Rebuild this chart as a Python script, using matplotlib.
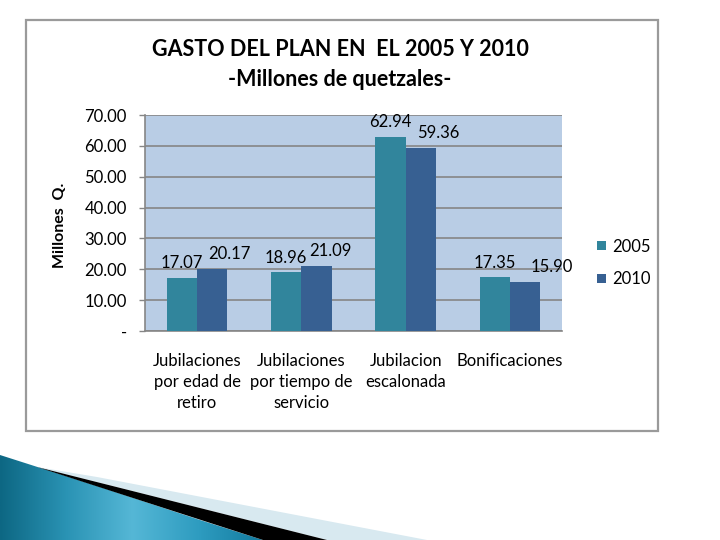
#!/usr/bin/env python3

#imports
import matplotlib
matplotlib.use("Agg")
import matplotlib.pyplot as plt
import numpy as np
from matplotlib.patches import Polygon, Rectangle
from matplotlib.colors import LinearSegmentedColormap


#data
categories = ["Jubilaciones\npor edad de\nretiro",
              "Jubilaciones\npor tiempo de\nservicio",
              "Jubilacion\nescalonada",
              "Bonificaciones"]
years = ["2005", "2010"]
gasto_2005 = [17.07, 18.96, 62.94, 17.35]
gasto_2010 = [20.17, 21.09, 59.36, 15.90]
y_ticks = [0, 10, 20, 30, 40, 50, 60, 70]
y_tick_labels = ["-", "10.00", "20.00", "30.00", "40.00", "50.00", "60.00", "70.00"]

#style
TEAL = "#31859C"
NAVY = "#376092"
PLOT_BG = "#B9CDE5"
GRID = "#868686"
FONT = ["Lato", "DejaVu Sans"]
FS = 12
label_dx_2010 = [12, 10, 13, 19]   # excel pushed the 2010 labels right a bit

plt.rcParams["font.family"] = FONT


#functions
def draw_slide(fig):
    # background layer in pixel coords of the slide
    bg = fig.add_axes([0, 0, 1, 1], zorder=0)
    bg.axis("off")

    # chart frame
    bg.add_patch(Rectangle((26, 20), 632, 411, fill=False,
                           edgecolor="#9A9A9A", linewidth=1.6))

    # swoosh at bottom left
    light = Polygon([(97, 477), (427, 540), (327, 540), (37, 467)],
                    closed=True, facecolor="#D8E9F0", edgecolor="none")
    black = Polygon([(37, 467), (327, 540), (263, 540)],
                    closed=True, facecolor="black", edgecolor="none")
    bg.add_patch(light)
    bg.add_patch(black)
    blue = Polygon([(0, 455), (100, 487), (200, 520), (263, 540), (0, 540)],
                   closed=True, facecolor="none", edgecolor="none")
    bg.add_patch(blue)
    cmap = LinearSegmentedColormap.from_list(
        "swoosh", ["#0D6783", "#2A93B4", "#55B7D6", "#2E9CC0", "#127A9E"])
    grad = np.linspace(0, 1, 256).reshape(1, -1)
    im = bg.imshow(grad, cmap=cmap, extent=[0, 265, 540, 452], aspect="auto")
    im.set_clip_path(blue)
    bg.set_xlim(0, 720)
    bg.set_ylim(540, 0)


def draw_chart(fig):
    ax = fig.add_axes([145 / 720, 1 - 331 / 540, 417 / 720, 216 / 540], zorder=2)
    ax.set_facecolor(PLOT_BG)

    x = np.arange(len(categories))
    w = 0.29
    b1 = ax.bar(x - w / 2, gasto_2005, w, color=TEAL, label=years[0], zorder=3)
    b2 = ax.bar(x + w / 2, gasto_2010, w, color=NAVY, label=years[1], zorder=3)

    for rect, v in zip(b1, gasto_2005):
        ax.annotate("%.2f" % v, (rect.get_x() + rect.get_width() / 2, v),
                    xytext=(0, 5), textcoords="offset points",
                    ha="center", va="bottom", fontsize=FS)
    for rect, v, dx in zip(b2, gasto_2010, label_dx_2010):
        ax.annotate("%.2f" % v, (rect.get_x() + rect.get_width() / 2, v),
                    xytext=(dx, 5), textcoords="offset points",
                    ha="center", va="bottom", fontsize=FS)

    ax.set_xlim(-0.5, len(categories) - 0.5)
    ax.set_ylim(0, 70)
    ax.set_yticks(y_ticks)
    ax.set_yticklabels(y_tick_labels, fontsize=FS)
    ax.set_xticks(x)
    ax.set_xticklabels(categories, fontsize=FS, linespacing=1.38, va="top")
    ax.tick_params(axis="x", length=0, pad=16)
    ax.tick_params(axis="y", length=4, width=1, color=GRID, pad=9)
    ax.yaxis.grid(True, color=GRID, linewidth=1.2, zorder=1)
    ax.set_axisbelow(True)
    for s in ["top", "right"]:
        ax.spines[s].set_visible(False)
    for s in ["left", "bottom"]:
        ax.spines[s].set_color(GRID)
        ax.spines[s].set_linewidth(1.2)

    fig.legend(loc="center left", bbox_to_anchor=(589 / 720, 1 - 263 / 540),
               frameon=False, fontsize=FS, handlelength=0.5, handleheight=0.5,
               handletextpad=0.4, labelspacing=1.0, borderpad=0)

    fig.text(340 / 720, 1 - 49 / 540, "GASTO DEL PLAN EN  EL 2005 Y 2010",
             ha="center", va="center", fontsize=15.5, fontweight="bold")
    fig.text(340 / 720, 1 - 80 / 540, "-Millones de quetzales-",
             ha="center", va="center", fontsize=15.5, fontweight="bold")
    fig.text(60 / 720, 1 - 225 / 540, "Millones  Q.", rotation=90,
             ha="center", va="center", fontsize=11.5, fontweight="bold")


#main
def main():
    fig = plt.figure(figsize=(7.2, 5.4), dpi=100)
    fig.patch.set_facecolor("white")
    draw_slide(fig)
    draw_chart(fig)
    fig.savefig("out.png", dpi=100)


if __name__ == "__main__":
    main()
